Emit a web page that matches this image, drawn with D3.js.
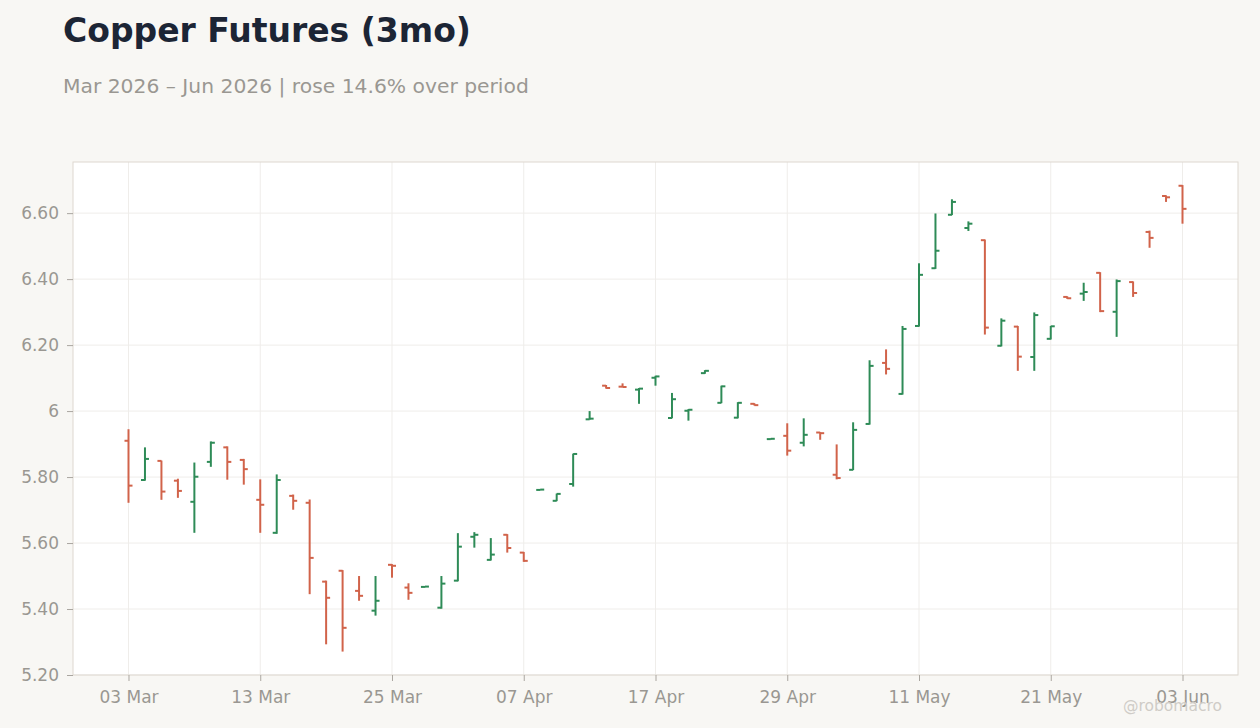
<!DOCTYPE html>
<html>
<head>
<meta charset="utf-8">
<script src="https://cdn.jsdelivr.net/npm/d3@7"></script>
<style>
  html, body { margin: 0; padding: 0; background: #f8f7f4; }
  svg { display: block; font-family: "DejaVu Sans", sans-serif; }
</style>
</head>
<body>
<svg id="chart" width="1260" height="728"></svg>
<script>
// trading days shown on the chart
const dates = [
  "2026-03-03","2026-03-04","2026-03-05","2026-03-06","2026-03-09","2026-03-10","2026-03-11","2026-03-12","2026-03-13",
  "2026-03-16","2026-03-17","2026-03-18","2026-03-19","2026-03-20","2026-03-23","2026-03-24","2026-03-25","2026-03-26",
  "2026-03-27","2026-03-30","2026-03-31","2026-04-01","2026-04-02","2026-04-06","2026-04-07","2026-04-08","2026-04-09",
  "2026-04-10","2026-04-13","2026-04-14","2026-04-15","2026-04-16","2026-04-17","2026-04-20","2026-04-21","2026-04-22",
  "2026-04-23","2026-04-24","2026-04-27","2026-04-28","2026-04-29","2026-04-30","2026-05-01","2026-05-04","2026-05-05",
  "2026-05-06","2026-05-07","2026-05-08","2026-05-11","2026-05-12","2026-05-13","2026-05-14","2026-05-15","2026-05-18",
  "2026-05-19","2026-05-20","2026-05-21","2026-05-22","2026-05-26","2026-05-27","2026-05-28","2026-05-29","2026-06-01",
  "2026-06-02","2026-06-03"
];

const opens = [
  5.910,5.791,5.849,5.789,5.725,5.846,5.890,5.852,5.731,5.631,5.743,5.722,5.483,5.516,5.455,5.395,
  5.534,5.465,5.467,5.404,5.486,5.619,5.549,5.625,5.571,5.761,5.728,5.779,5.975,6.077,6.074,6.065,
  6.101,5.979,6.001,6.115,6.025,5.980,6.022,5.915,5.925,5.904,5.935,5.807,5.822,5.961,6.146,6.052,
  6.258,6.433,6.595,6.555,6.518,6.198,6.256,6.164,6.219,6.346,6.356,6.419,6.301,6.391,6.543,6.652,
  6.683
];
const highs = [
  5.945,5.890,5.850,5.795,5.844,5.908,5.893,5.855,5.793,5.808,5.747,5.732,5.486,5.518,5.500,5.500,
  5.536,5.478,5.469,5.500,5.630,5.633,5.615,5.627,5.573,5.763,5.750,5.871,6.000,6.079,6.084,6.070,
  6.107,6.055,6.006,6.124,6.077,6.027,6.024,5.917,5.963,5.978,5.936,5.899,5.966,6.154,6.187,6.258,
  6.448,6.599,6.642,6.575,6.520,6.281,6.258,6.299,6.258,6.348,6.389,6.421,6.399,6.393,6.547,6.654,
  6.685
];
const lows = [
  5.722,5.789,5.731,5.737,5.631,5.831,5.792,5.777,5.631,5.628,5.701,5.445,5.293,5.271,5.425,5.380,
  5.495,5.428,5.466,5.401,5.484,5.586,5.547,5.571,5.543,5.760,5.727,5.771,5.974,6.068,6.072,6.022,
  6.077,5.978,5.971,6.113,6.024,5.978,6.017,5.914,5.865,5.893,5.913,5.793,5.821,5.959,6.111,6.050,
  6.256,6.431,6.594,6.546,6.232,6.196,6.122,6.122,6.217,6.340,6.334,6.300,6.225,6.346,6.495,6.634,
  6.568
];
const closes = [
  5.774,5.855,5.756,5.758,5.801,5.904,5.846,5.824,5.716,5.791,5.728,5.555,5.434,5.343,5.440,5.425,
  5.531,5.449,5.468,5.477,5.589,5.625,5.565,5.585,5.546,5.762,5.749,5.870,5.977,6.070,6.073,6.068,
  6.105,6.036,6.004,6.122,6.075,6.025,6.018,5.916,5.880,5.928,5.933,5.797,5.943,6.137,6.128,6.249,
  6.413,6.486,6.634,6.568,6.253,6.274,6.165,6.291,6.257,6.342,6.361,6.303,6.394,6.358,6.525,6.648,
  6.613
];

const yTicks = [5.2, 5.4, 5.6, 5.8, 6.0, 6.2, 6.4, 6.6];
const yTickLabels = ["5.20","5.40","5.60","5.80","6","6.20","6.40","6.60"];
const xTickEvery = 8;

const title = "Copper Futures (3mo)";
const subtitle = "Mar 2026 – Jun 2026 | rose 14.6% over period";
const credit = "@robomacro";

const UP = "#2e8b57", DOWN = "#d1634a";
const margin = {top: 162, right: 22, bottom: 53, left: 73};

const svg = d3.select("#chart");
const W = +svg.attr("width"), H = +svg.attr("height");
const width = W - margin.left - margin.right;
const height = H - margin.top - margin.bottom;

const parse = d3.timeParse("%Y-%m-%d");
const fmt = d3.timeFormat("%d %b");

const bars = dates.map((d, i) => ({
  date: parse(d), o: opens[i], h: highs[i], l: lows[i], c: closes[i]
}));

const x = d3.scalePoint()
    .domain(d3.range(bars.length))
    .range([0, width])
    .padding(3.37);

const y = d3.scaleLinear()
    .domain([5.2, 6.755])
    .range([height, 0]);

// titles
svg.append("text")
  .attr("x", 63).attr("y", 42)
  .attr("font-size", 33).attr("font-weight", "bold")
  .attr("fill", "#1c2535")
  .text(title);

svg.append("text")
  .attr("x", 63).attr("y", 93)
  .attr("font-size", 20.3)
  .attr("fill", "#9a9792")
  .text(subtitle);

const g = svg.append("g").attr("transform", `translate(${margin.left},${margin.top})`);

g.append("rect")
  .attr("width", width).attr("height", height)
  .attr("fill", "#ffffff");

// grid
const xTickIdx = d3.range(0, bars.length, xTickEvery);

g.append("g").selectAll("line")
  .data(yTicks).enter().append("line")
  .attr("x1", 0).attr("x2", width)
  .attr("y1", d => y(d)).attr("y2", d => y(d))
  .attr("stroke", "#efedea").attr("stroke-width", 1);

g.append("g").selectAll("line")
  .data(xTickIdx).enter().append("line")
  .attr("x1", d => x(d)).attr("x2", d => x(d))
  .attr("y1", 0).attr("y2", height)
  .attr("stroke", "#efedea").attr("stroke-width", 1);

g.append("rect")
  .attr("width", width).attr("height", height)
  .attr("fill", "none").attr("stroke", "#ddd8d0").attr("stroke-width", 1);

// axes
const yAxis = d3.axisLeft(y)
  .tickValues(yTicks)
  .tickFormat((d, i) => yTickLabels[i])
  .tickSize(6).tickPadding(8);

const xAxis = d3.axisBottom(x)
  .tickValues(xTickIdx)
  .tickFormat(i => fmt(bars[i].date))
  .tickSize(6).tickPadding(10);

const ya = g.append("g").call(yAxis);
const xa = g.append("g").attr("transform", `translate(0,${height})`).call(xAxis);

[ya, xa].forEach(a => {
  a.select(".domain").remove();
  a.selectAll(".tick line").attr("stroke", "#aaa6a0");
  a.selectAll(".tick text")
    .attr("fill", "#9a9792")
    .attr("font-size", 17)
    .attr("font-family", "DejaVu Sans, sans-serif");
});

// OHLC bars
const tick = 4;
const ohlc = g.append("g").selectAll("g")
  .data(bars).enter().append("g")
  .attr("stroke", d => d.c >= d.o ? UP : DOWN)
  .attr("stroke-width", 2);

ohlc.append("line")
  .attr("x1", (d, i) => x(i)).attr("x2", (d, i) => x(i))
  .attr("y1", d => y(d.h)).attr("y2", d => y(d.l));

ohlc.append("line")
  .attr("x1", (d, i) => x(i) - tick).attr("x2", (d, i) => x(i))
  .attr("y1", d => y(d.o)).attr("y2", d => y(d.o));

ohlc.append("line")
  .attr("x1", (d, i) => x(i)).attr("x2", (d, i) => x(i) + tick)
  .attr("y1", d => y(d.c)).attr("y2", d => y(d.c));

svg.append("text")
  .attr("x", 1222).attr("y", 711)
  .attr("text-anchor", "end")
  .attr("font-size", 15.5)
  .attr("fill", "#cfccc7")
  .text(credit);
</script>
</body>
</html>
